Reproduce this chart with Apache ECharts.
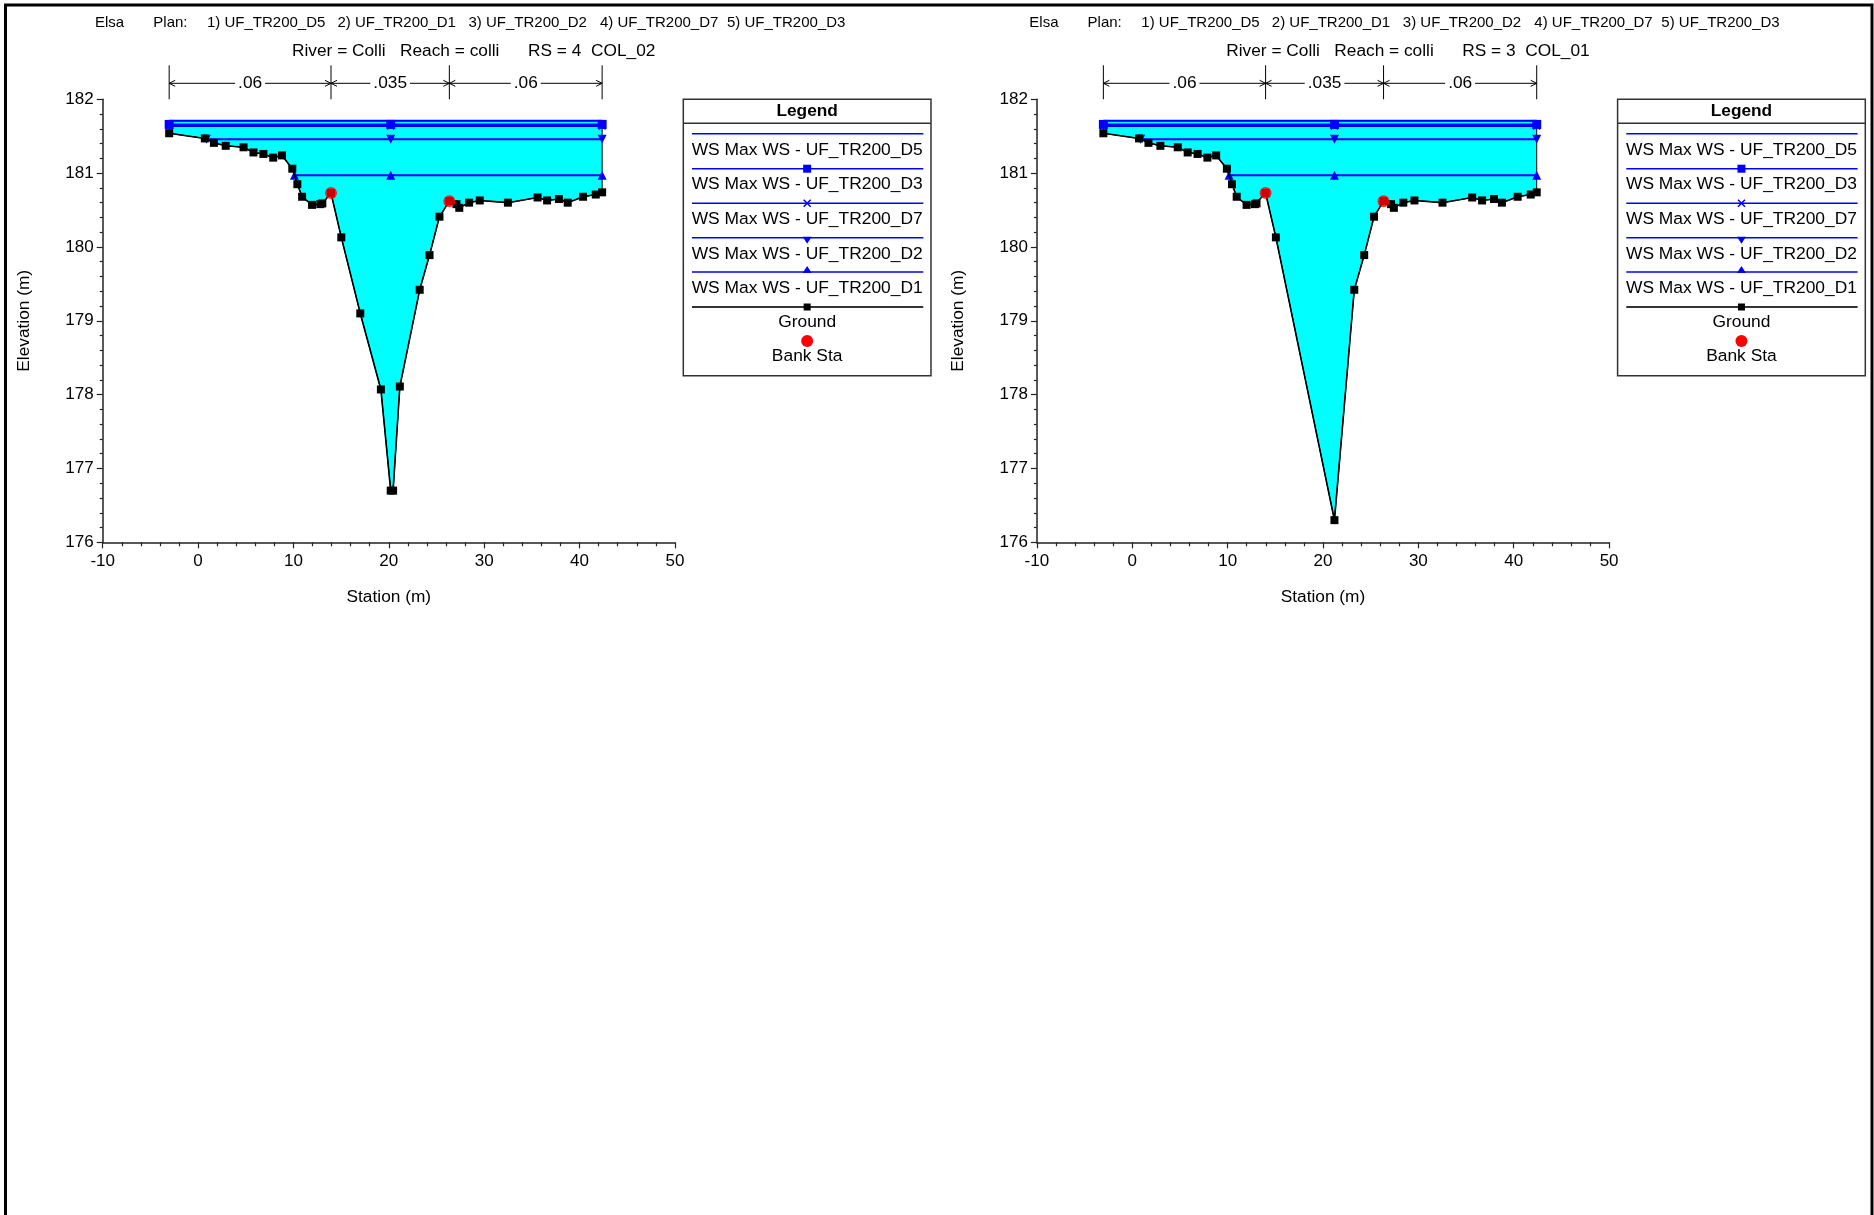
<!DOCTYPE html>
<html><head><meta charset="utf-8">
<script src="https://cdn.jsdelivr.net/npm/echarts@6/dist/echarts.min.js"></script>
<style>html,body{margin:0;padding:0;background:#fff;}#c{width:1874px;height:1215px;}</style>
</head><body><div id="c"></div>
<script>
// ---------------- DATA ----------------
const projectName = 'Elsa';
const planItems = ['1) UF_TR200_D5', '2) UF_TR200_D1', '3) UF_TR200_D2', '4) UF_TR200_D7', '5) UF_TR200_D3'];
const wsNames = ['WS Max WS - UF_TR200_D5', 'WS Max WS - UF_TR200_D3', 'WS Max WS - UF_TR200_D7', 'WS Max WS - UF_TR200_D2', 'WS Max WS - UF_TR200_D1'];
const groundName = 'Ground';
const bankName = 'Bank Sta';
const manningN = ['.06', '.035', '.06'];
const xAxisName = 'Station (m)';
const yAxisName = 'Elevation (m)';
const xMin = -10, xMax = 50, xStep = 10;
const yMin = 176, yMax = 182, yStep = 1;

// RS = 4  COL_02
const rs4Title = ['River = Colli', 'Reach = colli', 'RS = 4', 'COL_02'];
const rs4Station = [-3.03, 0.71, 1.66, 2.90, 4.77, 5.81, 6.85, 7.88, 8.80, 9.88, 10.41, 10.91, 11.95, 12.82, 13.03, 13.94, 15.02, 17.01, 19.17, 20.20, 20.45, 21.16, 23.24, 24.27, 25.31, 26.35, 27.10, 27.39, 28.42, 29.54, 32.49, 35.60, 36.60, 37.84, 38.76, 40.37, 41.70, 42.37];
const rs4Elev    = [181.54, 181.47, 181.41, 181.37, 181.35, 181.28, 181.26, 181.21, 181.24, 181.06, 180.85, 180.68, 180.57, 180.58, 180.59, 180.73, 180.13, 179.10, 178.07, 176.70, 176.70, 178.11, 179.42, 179.89, 180.41, 180.62, 180.58, 180.53, 180.60, 180.63, 180.60, 180.67, 180.63, 180.65, 180.60, 180.68, 180.71, 180.74];
const rs4BankStation = [13.94, 26.35];
const rs4BankElev = [180.73, 180.62];
const rs4WS = [181.71, 181.66, 181.64, 181.46, 180.97]; // D5, D3, D7, D2, D1

// RS = 3  COL_01
const rs3Title = ['River = Colli', 'Reach = colli', 'RS = 3', 'COL_01'];
const rs3Station = [-3.03, 0.71, 1.70, 2.95, 4.77, 5.81, 6.85, 7.88, 8.80, 9.92, 10.46, 10.95, 11.99, 12.86, 13.03, 13.98, 15.06, 21.20, 23.28, 24.32, 25.35, 26.35, 27.14, 27.43, 28.42, 29.59, 32.53, 35.64, 36.68, 37.93, 38.76, 40.41, 41.78, 42.41];
const rs3Elev    = [181.54, 181.47, 181.41, 181.37, 181.35, 181.28, 181.26, 181.21, 181.24, 181.06, 180.85, 180.68, 180.57, 180.58, 180.59, 180.73, 180.13, 176.30, 179.42, 179.89, 180.41, 180.62, 180.58, 180.53, 180.60, 180.63, 180.60, 180.67, 180.63, 180.65, 180.60, 180.68, 180.71, 180.74];
const rs3BankStation = [13.98, 26.35];
const rs3BankElev = [180.73, 180.62];
const rs3WS = [181.71, 181.66, 181.64, 181.46, 180.97];

// ---------------- STYLE / LAYOUT ----------------
const FONT = '"Liberation Sans", Arial, Helvetica, sans-serif';
const BLUE = '#0000FF';
const panelDx = [0, 934.3];
const gridLeft = [102.7, 1036.9];
const gridTop = 99.3, gridW = 572.2, gridH = 443;
const TRI_DOWN = 'path://M0,0L10,0L5,9Z';
const XMARK = 'path://M0,0L10,10M10,0L0,10';
const wsSymbols = ['none', 'rect', XMARK, TRI_DOWN, 'triangle'];

const sections = [
  {title: rs4Title, st: rs4Station, el: rs4Elev, bs: rs4BankStation, be: rs4BankElev, ws: rs4WS},
  {title: rs3Title, st: rs3Station, el: rs3Elev, bs: rs3BankStation, be: rs3BankElev, ws: rs3WS}
];

function leftEdge(st, el, level) {
  if (el[0] <= level) return st[0];
  for (let i = 0; i < st.length - 1; i++) {
    if (el[i] >= level && el[i + 1] < level) {
      return st[i] + (el[i] - level) / (el[i] - el[i + 1]) * (st[i + 1] - st[i]);
    }
  }
  return st[0];
}
function argMin(a) { let k = 0; a.forEach((v, i) => { if (v < a[k]) k = i; }); return k; }

const grids = [], xAxes = [], yAxes = [], series = [], graphics = [];

sections.forEach((s, idx) => {
  grids.push({left: gridLeft[idx], top: gridTop, width: gridW, height: gridH, containLabel: false});
  xAxes.push({
    gridIndex: idx, type: 'value', min: xMin, max: xMax, interval: xStep,
    name: xAxisName, nameLocation: 'middle', nameGap: 46,
    nameTextStyle: {fontFamily: FONT, fontSize: 17.3, color: '#000'},
    axisLine: {show: true, onZero: false, lineStyle: {color: '#222', width: 1.5}},
    axisTick: {show: true, length: 6, lineStyle: {color: '#222', width: 1.2}},
    minorTick: {show: true, splitNumber: 5, length: 4, lineStyle: {color: '#222', width: 1.2}},
    axisLabel: {fontFamily: FONT, fontSize: 17, color: '#000', margin: 11},
    splitLine: {show: false}
  });
  yAxes.push({
    gridIndex: idx, type: 'value', min: yMin, max: yMax, interval: yStep,
    name: yAxisName, nameLocation: 'middle', nameGap: 70,
    nameTextStyle: {fontFamily: FONT, fontSize: 17.3, color: '#000'},
    axisLine: {show: true, onZero: false, lineStyle: {color: '#222', width: 1.5}},
    axisTick: {show: true, length: 6, lineStyle: {color: '#222', width: 1.2}},
    minorTick: {show: true, splitNumber: 5, length: 3, lineStyle: {color: '#222', width: 1.2}},
    axisLabel: {fontFamily: FONT, fontSize: 17, color: '#000', margin: 9},
    splitLine: {show: false}
  });

  const wsMax = Math.max.apply(null, s.ws);
  // water fill polygon
  series.push({
    type: 'custom', xAxisIndex: idx, yAxisIndex: idx, z: 1, silent: true, clip: false,
    data: [[s.st[0], wsMax]],
    renderItem: function (params, api) {
      const pts = [api.coord([s.st[0], wsMax])];
      for (let i = 0; i < s.st.length; i++) pts.push(api.coord([s.st[i], s.el[i]]));
      pts.push(api.coord([s.st[s.st.length - 1], wsMax]));
      return {type: 'polygon', shape: {points: pts}, style: {fill: '#00FFFF', stroke: '#000', lineWidth: 1}};
    }
  });
  // WS lines
  const thal = s.st[argMin(s.el)];
  const xr = s.st[s.st.length - 1];
  s.ws.forEach((lvl, k) => {
    const x0 = leftEdge(s.st, s.el, lvl);
    const isX = wsSymbols[k] === XMARK;
    series.push({
      type: 'line', name: wsNames[k], xAxisIndex: idx, yAxisIndex: idx, z: 2 + (5 - k) * 0.01,
      data: [[x0, lvl], [thal, lvl], [xr, lvl]],
      symbol: wsSymbols[k], symbolSize: isX ? 7 : 9, showSymbol: wsSymbols[k] !== 'none',
      lineStyle: {color: BLUE, width: 2},
      itemStyle: isX ? {color: 'rgba(0,0,0,0)', borderColor: BLUE, borderWidth: 1.5} : {color: BLUE},
      silent: true
    });
  });
  // ground
  series.push({
    type: 'line', name: groundName, xAxisIndex: idx, yAxisIndex: idx, z: 3,
    data: s.st.map((x, i) => [x, s.el[i]]),
    symbol: 'rect', symbolSize: 8, showSymbol: true,
    lineStyle: {color: '#000', width: 1.6}, itemStyle: {color: '#000'}, silent: true
  });
  // bank stations
  series.push({
    type: 'scatter', name: bankName, xAxisIndex: idx, yAxisIndex: idx, z: 4,
    data: s.bs.map((x, i) => [x, s.be[i]]),
    symbol: 'circle', symbolSize: 12, itemStyle: {color: '#FF0000'}, silent: true
  });
  // Manning's n annotation above the plot
  const bounds = [s.st[0], s.bs[0], s.bs[1], xr];
  series.push({
    type: 'custom', xAxisIndex: idx, yAxisIndex: idx, z: 5, silent: true, clip: false,
    data: [[bounds[0], yMax]],
    renderItem: function (params, api) {
      const top = api.coord([bounds[0], yMax])[1];
      const xs = bounds.map(b => api.coord([b, yMax])[0]);
      const yL = top - 16, yT = top - 34;
      const ch = [];
      xs.forEach(x => ch.push({type: 'line', shape: {x1: x, y1: yT, x2: x, y2: top}, style: {stroke: '#000', lineWidth: 1}}));
      for (let i = 0; i < 3; i++) {
        const a = xs[i], b = xs[i + 1];
        ch.push({type: 'line', shape: {x1: a, y1: yL, x2: b, y2: yL}, style: {stroke: '#000', lineWidth: 1}});
        ch.push({type: 'polyline', shape: {points: [[a + 6, yL - 3], [a, yL], [a + 6, yL + 3]]}, style: {stroke: '#000', lineWidth: 1, fill: null}});
        ch.push({type: 'polyline', shape: {points: [[b - 6, yL - 3], [b, yL], [b - 6, yL + 3]]}, style: {stroke: '#000', lineWidth: 1, fill: null}});
        ch.push({type: 'text', style: {text: manningN[i], x: (a + b) / 2, y: yL, align: 'center', verticalAlign: 'middle', textAlign: 'center', textVerticalAlign: 'middle', font: '17.3px ' + FONT, fill: '#000', backgroundColor: '#fff', padding: [0, 3]}});
      }
      return {type: 'group', children: ch};
    }
  });

  // ---- header texts ----
  const dx = panelDx[idx];
  const txt = (t, x, y, size, bold, align) => ({
    type: 'text', x: x, y: y, silent: true,
    style: {text: t, x: 0, y: 0, font: (bold ? 'bold ' : '') + size + 'px ' + FONT, fill: '#000',
      align: align || 'left', verticalAlign: 'middle', textAlign: align || 'left', textVerticalAlign: 'middle'}
  });
  graphics.push(txt(projectName, 95 + dx, 22.7, 15));
  graphics.push(txt('Plan:', 153.3 + dx, 22.7, 15));
  const itemX = [207, 337.5, 468.5, 600, 727];
  planItems.forEach((p, i) => graphics.push(txt(p, itemX[i] + dx, 22.7, 15)));
  const titleX = [292, 400, 528, 591];
  s.title.forEach((t, i) => graphics.push(txt(t, titleX[i] + dx, 51.7, 17.3)));

  // ---- legend box ----
  const lx = 683.3 + dx, ly = 99.3, lw = 247.7, lh = 276.4, cx = lx + lw / 2;
  graphics.push({type: 'rect', silent: true, shape: {x: lx, y: ly, width: lw, height: lh}, style: {fill: '#fff', stroke: '#333', lineWidth: 1.5}});
  graphics.push({type: 'line', silent: true, shape: {x1: lx, y1: 123.3, x2: lx + lw, y2: 123.3}, style: {stroke: '#333', lineWidth: 1.5}});
  graphics.push(txt('Legend', cx, 111, 17.3, true, 'center'));
  const lineY = [133.7, 168.7, 203.3, 237.7, 272, 307];
  const textY = [150.5, 184, 219, 254, 288, 322.5];
  const lx1 = lx + 8.7, lx2 = lx + 240;
  wsNames.forEach((n, k) => {
    graphics.push({type: 'line', silent: true, shape: {x1: lx1, y1: lineY[k], x2: lx2, y2: lineY[k]}, style: {stroke: BLUE, lineWidth: 1.5}});
    graphics.push(txt(n, cx, textY[k], 17.4, false, 'center'));
    const y = lineY[k];
    if (k === 1) graphics.push({type: 'rect', silent: true, shape: {x: cx - 4, y: y - 4, width: 8, height: 8}, style: {fill: BLUE}});
    if (k === 2) {
      graphics.push({type: 'line', silent: true, shape: {x1: cx - 3.5, y1: y - 3.5, x2: cx + 3.5, y2: y + 3.5}, style: {stroke: BLUE, lineWidth: 1.5}});
      graphics.push({type: 'line', silent: true, shape: {x1: cx + 3.5, y1: y - 3.5, x2: cx - 3.5, y2: y + 3.5}, style: {stroke: BLUE, lineWidth: 1.5}});
    }
    if (k === 3) graphics.push({type: 'polygon', silent: true, shape: {points: [[cx - 4.5, y - 1], [cx + 4.5, y - 1], [cx, y + 6]]}, style: {fill: BLUE}});
    if (k === 4) graphics.push({type: 'polygon', silent: true, shape: {points: [[cx - 4.5, y + 1], [cx + 4.5, y + 1], [cx, y - 6]]}, style: {fill: BLUE}});
  });
  graphics.push({type: 'line', silent: true, shape: {x1: lx1, y1: lineY[5], x2: lx2, y2: lineY[5]}, style: {stroke: '#333', lineWidth: 2}});
  graphics.push({type: 'rect', silent: true, shape: {x: cx - 3.5, y: lineY[5] - 3.5, width: 7, height: 7}, style: {fill: '#000'}});
  graphics.push(txt(groundName, cx, textY[5], 17.4, false, 'center'));
  graphics.push({type: 'circle', silent: true, shape: {cx: cx, cy: 341, r: 6}, style: {fill: '#FF0000'}});
  graphics.push(txt(bankName, cx, 356.5, 17.4, false, 'center'));
});

// outer frame
graphics.push({type: 'rect', silent: true, shape: {x: 5.5, y: 5, width: 1866.5, height: 1300}, style: {fill: null, stroke: '#000', lineWidth: 3}});

const chart = echarts.init(document.getElementById('c'), null, {renderer: 'canvas'});
chart.setOption({
  animation: false,
  backgroundColor: '#fff',
  grid: grids,
  xAxis: xAxes,
  yAxis: yAxes,
  series: series,
  graphic: {elements: graphics}
});
</script>
</body></html>
